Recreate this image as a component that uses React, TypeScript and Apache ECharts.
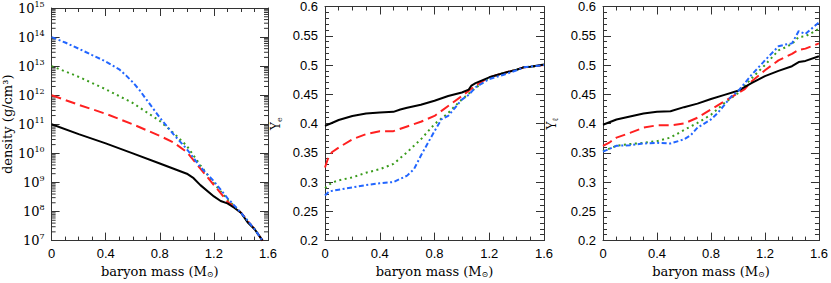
import React, { useEffect, useRef } from 'react';
import * as echarts from 'echarts';

// ---------- data ----------
const massMin = 0;
const massMax = 1.6;
const massInterval = 0.4;

const densityDecades = [7, 8, 9, 10, 11, 12, 13, 14, 15];

const densityBlack: [number, number][] = [
  [0, 1.0e11], [0.2, 4.6e10], [0.4, 2.2e10], [0.6, 1.0e10], [0.8, 4.5e9],
  [1.0, 2.0e9], [1.05, 1.4e9], [1.1, 8.1e8], [1.2, 3.3e8], [1.25, 2.3e8],
  [1.3, 1.9e8], [1.35, 1.35e8], [1.4, 9.1e7], [1.45, 4.2e7], [1.5, 2.5e7], [1.56, 1.0e7],
];
const densityRed: [number, number][] = [
  [0, 1.0e12], [0.2, 4.7e11], [0.4, 2.3e11], [0.6, 1.0e11], [0.8, 4.0e10],
  [0.9, 2.4e10], [1.0, 1.1e10], [1.1, 3.0e9], [1.2, 8.1e8], [1.25, 4.3e8],
  [1.3, 2.2e8], [1.4, 9.1e7], [1.5, 2.5e7], [1.56, 1.0e7],
];
const densityGreen: [number, number][] = [
  [0, 1.0e13], [0.1, 6.6e12], [0.2, 4.3e12], [0.4, 1.6e12], [0.6, 5.4e11],
  [0.8, 1.3e11], [0.9, 5.1e10], [1.0, 1.8e10], [1.1, 3.9e9], [1.2, 9.3e8],
  [1.3, 2.6e8], [1.4, 9.1e7], [1.5, 2.5e7], [1.56, 1.0e7],
];
const densityBlue: [number, number][] = [
  [0, 1.0e14], [0.1, 6.5e13], [0.2, 4.0e13], [0.3, 2.4e13], [0.4, 1.45e13],
  [0.5, 7.8e12], [0.55, 4.8e12], [0.6, 2.8e12], [0.65, 1.5e12], [0.7, 7.2e11],
  [0.8, 1.7e11], [0.9, 4.6e10], [1.0, 1.4e10], [1.1, 3.4e9], [1.2, 1.1e9],
  [1.3, 2.9e8], [1.4, 9.1e7], [1.5, 2.5e7], [1.56, 1.0e7],
];

const yeBlack: [number, number][] = [
  [0, 0.396], [0.05, 0.401], [0.1, 0.406], [0.2, 0.413], [0.3, 0.417], [0.4, 0.419],
  [0.5, 0.42], [0.55, 0.424], [0.6, 0.427], [0.7, 0.432], [0.8, 0.439], [0.9, 0.447],
  [1.0, 0.453], [1.05, 0.458], [1.07, 0.465], [1.1, 0.469], [1.2, 0.479], [1.3, 0.486],
  [1.4, 0.492], [1.45, 0.496], [1.5, 0.497], [1.6, 0.501],
];
const yeRed: [number, number][] = [
  [0, 0.325], [0.02, 0.339], [0.05, 0.351], [0.1, 0.359], [0.2, 0.373], [0.3, 0.382],
  [0.4, 0.387], [0.5, 0.387], [0.6, 0.395], [0.7, 0.403], [0.8, 0.413], [0.9, 0.43],
  [1.0, 0.447], [1.1, 0.465], [1.2, 0.479], [1.3, 0.486], [1.4, 0.492], [1.45, 0.496],
  [1.5, 0.497], [1.6, 0.5],
];
const yeGreen: [number, number][] = [
  [0, 0.29], [0.05, 0.299], [0.1, 0.303], [0.2, 0.308], [0.3, 0.316], [0.4, 0.322],
  [0.5, 0.331], [0.6, 0.351], [0.7, 0.373], [0.8, 0.399], [0.9, 0.418], [0.95, 0.43],
  [1.0, 0.441], [1.1, 0.461], [1.2, 0.478], [1.3, 0.486], [1.4, 0.492], [1.45, 0.496],
  [1.5, 0.497], [1.6, 0.5],
];
const yeBlue: [number, number][] = [
  [0, 0.277], [0.03, 0.284], [0.1, 0.287], [0.2, 0.291], [0.3, 0.295], [0.4, 0.298],
  [0.5, 0.3], [0.6, 0.311], [0.65, 0.322], [0.7, 0.345], [0.8, 0.387], [0.85, 0.407],
  [0.9, 0.413], [0.95, 0.427], [1.0, 0.441], [1.05, 0.449], [1.1, 0.462], [1.2, 0.476],
  [1.3, 0.483], [1.4, 0.491], [1.45, 0.496], [1.6, 0.5],
];

const ylBlack: [number, number][] = [
  [0, 0.398], [0.1, 0.407], [0.2, 0.412], [0.3, 0.417], [0.4, 0.42], [0.5, 0.421],
  [0.6, 0.428], [0.7, 0.434], [0.8, 0.442], [0.9, 0.449], [1.0, 0.456], [1.1, 0.469],
  [1.2, 0.481], [1.3, 0.49], [1.4, 0.498], [1.45, 0.505], [1.5, 0.507], [1.6, 0.515],
];
const ylRed: [number, number][] = [
  [0, 0.362], [0.05, 0.368], [0.1, 0.376], [0.2, 0.384], [0.3, 0.393], [0.4, 0.397],
  [0.5, 0.397], [0.6, 0.4], [0.7, 0.41], [0.8, 0.424], [0.9, 0.438], [1.0, 0.452],
  [1.05, 0.459], [1.1, 0.472], [1.2, 0.491], [1.3, 0.508], [1.4, 0.519], [1.45, 0.526],
  [1.5, 0.528], [1.6, 0.537],
];
const ylGreen: [number, number][] = [
  [0, 0.353], [0.1, 0.362], [0.2, 0.365], [0.3, 0.367], [0.4, 0.37], [0.5, 0.376],
  [0.6, 0.389], [0.7, 0.401], [0.8, 0.415], [0.9, 0.435], [1.0, 0.452], [1.1, 0.477],
  [1.2, 0.5], [1.3, 0.525], [1.35, 0.53], [1.4, 0.536], [1.45, 0.548], [1.5, 0.549],
  [1.6, 0.562],
];
const ylBlue: [number, number][] = [
  [0, 0.352], [0.1, 0.362], [0.2, 0.363], [0.3, 0.366], [0.4, 0.367], [0.5, 0.366],
  [0.6, 0.373], [0.65, 0.38], [0.7, 0.393], [0.8, 0.407], [0.85, 0.418], [0.9, 0.432],
  [0.95, 0.446], [1.0, 0.455], [1.1, 0.483], [1.2, 0.508], [1.3, 0.532], [1.35, 0.535],
  [1.4, 0.537], [1.45, 0.558], [1.5, 0.553], [1.6, 0.573],
];

const fracMin = 0.2;
const fracMax = 0.6;
const fracInterval = 0.05;

// ---------- styles ----------
const FRAME = '#333';
const SERIF = '"DejaVu Serif", "Liberation Serif", serif';
const SANS = '"Liberation Sans", Arial, sans-serif';
const COLORS = { black: '#000000', red: '#ff2020', green: '#3a9c1c', blue: '#2266ff' };

export default function App() {
  const ref = useRef<HTMLDivElement>(null);

  useEffect(() => {
    document.body.style.margin = '0';
    const chart = echarts.init(ref.current!, null, { renderer: 'svg' });

    const gridTop = 5;
    const gridH = 237;
    const gridW = 219;
    const grids = [
      { left: 49, top: gridTop, width: gridW, height: gridH },
      { left: 325, top: gridTop, width: gridW, height: gridH },
      { left: 603, top: gridTop, width: gridW, height: gridH },
    ];

    const massName = '{t|baryon mass (M}{sub|⊙}{t|)}';
    const xAxis = (gi: number, top: boolean) => ({
      type: 'value',
      gridIndex: gi,
      position: top ? 'top' : 'bottom',
      min: massMin,
      max: massMax,
      interval: massInterval,
      name: top ? '' : massName,
      nameLocation: 'middle',
      nameGap: 23,
      nameTextStyle: {
        fontFamily: SERIF,
        fontSize: 13,
        color: '#000',
        rich: {
          t: { fontFamily: SERIF, fontSize: 13, color: '#000' },
          sub: { fontFamily: SERIF, fontSize: 8, color: '#000', padding: [6, 0, 0, 0] },
        },
      },
      axisLine: { show: true, onZero: false, lineStyle: { color: FRAME, width: 1 } },
      axisTick: { show: true, inside: true, length: 8, lineStyle: { color: FRAME, width: 1 } },
      minorTick: { show: true, splitNumber: 4, length: 4, lineStyle: { color: FRAME, width: 1 } },
      splitLine: { show: false },
      axisLabel: {
        show: !top,
        fontFamily: SANS,
        fontSize: 13,
        color: '#000',
        margin: 6,
      },
    });

    const fracAxis = (gi: number, right: boolean, sub: string, gap: number) => ({
      type: 'value',
      gridIndex: gi,
      position: right ? 'right' : 'left',
      min: fracMin,
      max: fracMax,
      interval: fracInterval,
      name: right ? '' : `{t|Y}{sub|${sub}}`,
      nameLocation: 'middle',
      nameGap: gap,
      nameTextStyle: {
        fontFamily: SERIF,
        fontSize: 12,
        color: '#000',
        rich: {
          t: { fontFamily: SERIF, fontSize: 12, color: '#000' },
          sub: { fontFamily: SERIF, fontSize: 8, color: '#000', padding: [6, 0, 0, 0] },
        },
      },
      axisLine: { show: true, onZero: false, lineStyle: { color: FRAME, width: 1 } },
      axisTick: { show: true, inside: true, length: 8, lineStyle: { color: FRAME, width: 1 } },
      minorTick: { show: true, splitNumber: 5, length: 4, lineStyle: { color: FRAME, width: 1 } },
      splitLine: { show: false },
      axisLabel: { show: !right, fontFamily: SANS, fontSize: 13, color: '#000', margin: 7 },
    });

    const densAxis = (right: boolean) => ({
      type: 'log',
      logBase: 10,
      gridIndex: 0,
      position: right ? 'right' : 'left',
      min: Math.pow(10, densityDecades[0]),
      max: Math.pow(10, densityDecades[densityDecades.length - 1]),
      name: right ? '' : '{t|density (g/cm³)}',
      nameLocation: 'middle',
      nameGap: 35,
      nameTextStyle: {
        fontFamily: SERIF,
        fontSize: 13,
        color: '#000',
        rich: { t: { fontFamily: SERIF, fontSize: 13, color: '#000' } },
      },
      axisLine: { show: true, onZero: false, lineStyle: { color: FRAME, width: 1 } },
      axisTick: { show: true, inside: true, length: 8, lineStyle: { color: FRAME, width: 1 } },
      minorTick: { show: false },
      splitLine: { show: false },
      axisLabel: {
        show: !right,
        margin: 7,
        formatter: (v: number) => `{b|10}{s|${Math.round(Math.log10(v))}}`,
        rich: {
          b: { fontFamily: SERIF, fontSize: 13, color: '#000' },
          s: { fontFamily: SERIF, fontSize: 8, color: '#000', padding: [0, 0, 8, 0] },
        },
      },
    });

    // minor log ticks at 2..9 x 10^n
    const minorLogTicks: [number, number][] = [];
    for (let i = 0; i < densityDecades.length - 1; i++) {
      for (let k = 2; k <= 9; k++) minorLogTicks.push([0, k * Math.pow(10, densityDecades[i])]);
    }

    const lineSeries = (
      xi: number,
      yi: number,
      data: [number, number][],
      color: string,
      type: any,
      z: number,
    ) => ({
      type: 'line',
      xAxisIndex: xi,
      yAxisIndex: yi,
      data,
      symbol: 'none',
      showSymbol: false,
      z,
      lineStyle: { color, width: 2, type, cap: 'butt' },
      silent: true,
    });

    const RED_DASH = [10, 5];
    const GREEN_DOT = [2, 3.5];
    const BLUE_DASHDOT = [5, 2.5, 2, 2.5];

    const option: any = {
      animation: false,
      backgroundColor: '#fff',
      grid: grids,
      xAxis: [
        xAxis(0, false), xAxis(0, true),
        xAxis(1, false), xAxis(1, true),
        xAxis(2, false), xAxis(2, true),
      ],
      yAxis: [
        densAxis(false), densAxis(true),
        fracAxis(1, false, 'e', 42), fracAxis(1, true, 'e', 42),
        fracAxis(2, false, 'ℓ', 44), fracAxis(2, true, 'ℓ', 44),
      ],
      series: [
        {
          type: 'custom',
          xAxisIndex: 0,
          yAxisIndex: 0,
          data: minorLogTicks,
          silent: true,
          clip: false,
          renderItem: (params: any, api: any) => {
            const v = api.value(1);
            const pl = api.coord([massMin, v]);
            const pr = api.coord([massMax, v]);
            return {
              type: 'group',
              children: [
                { type: 'line', shape: { x1: pl[0], y1: pl[1], x2: pl[0] + 4, y2: pl[1] }, style: { stroke: FRAME, lineWidth: 1 } },
                { type: 'line', shape: { x1: pr[0] - 4, y1: pr[1], x2: pr[0], y2: pr[1] }, style: { stroke: FRAME, lineWidth: 1 } },
              ],
            };
          },
        },
        lineSeries(0, 0, densityBlack, COLORS.black, 'solid', 4),
        lineSeries(0, 0, densityRed, COLORS.red, RED_DASH, 3),
        lineSeries(0, 0, densityGreen, COLORS.green, GREEN_DOT, 2),
        lineSeries(0, 0, densityBlue, COLORS.blue, BLUE_DASHDOT, 5),

        lineSeries(2, 2, yeBlack, COLORS.black, 'solid', 4),
        lineSeries(2, 2, yeRed, COLORS.red, RED_DASH, 3),
        lineSeries(2, 2, yeGreen, COLORS.green, GREEN_DOT, 2),
        lineSeries(2, 2, yeBlue, COLORS.blue, BLUE_DASHDOT, 5),

        lineSeries(4, 4, ylBlack, COLORS.black, 'solid', 4),
        lineSeries(4, 4, ylRed, COLORS.red, RED_DASH, 3),
        lineSeries(4, 4, ylGreen, COLORS.green, GREEN_DOT, 2),
        lineSeries(4, 4, ylBlue, COLORS.blue, BLUE_DASHDOT, 5),
      ],
    };

    chart.setOption(option);
    return () => chart.dispose();
  }, []);

  return <div ref={ref} style={{ width: 831, height: 283 }} />;
}
